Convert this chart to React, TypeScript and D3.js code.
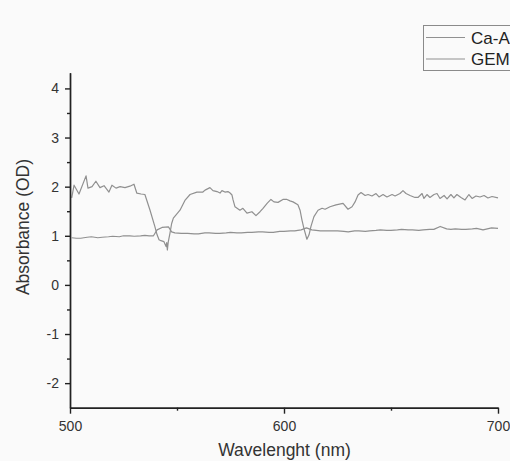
import React, { useEffect, useRef } from 'react';
import * as d3 from 'd3';

// Ca-A spectrum (upper trace)
const caWavelength = [
  500.8, 501.9, 504.2, 507.5, 508.4, 510.3, 512.1, 514.0, 515.9, 518.2, 519.6, 521.5, 523.4, 525.7,
  528.0, 529.9, 531.2, 533.2, 535.0, 537.4, 539.7, 540.7, 541.6, 542.5, 543.9, 544.9, 545.2, 545.5,
  545.9, 546.7, 547.5, 548.3, 551.4, 553.7, 556.1, 559.3, 562.1, 563.1, 565.4, 566.8, 568.7, 570.1,
  571.0, 572.4, 573.8, 574.8, 575.7, 576.2, 577.1, 579.4, 580.8, 582.7, 585.0, 586.9, 588.8, 590.2,
  592.1, 593.9, 595.3, 597.2, 599.5, 601.4, 602.8, 604.2, 606.5, 607.5, 608.4, 609.3, 610.7, 611.7,
  612.6, 614.0, 615.9, 617.8, 619.2, 621.5, 624.3, 627.6, 629.9, 631.8, 633.2, 634.6, 636.0, 637.9,
  639.3, 641.1, 643.0, 644.4, 646.3, 648.1, 650.5, 651.9, 654.2, 655.6, 657.0, 658.9, 661.2, 662.6,
  664.5, 665.4, 666.8, 668.2, 670.1, 671.5, 672.9, 674.8, 676.2, 678.0, 679.4, 680.8, 682.7, 684.6,
  686.4, 687.9, 689.7, 691.6, 693.5, 695.3, 697.2, 700.0,
];
const caAbsorbance = [
  1.77, 2.03, 1.85, 2.22, 1.97, 2.0, 2.11, 1.98, 2.02, 1.89, 2.03, 1.97, 2.0, 1.98,
  2.01, 2.05, 1.87, 1.85, 1.84, 1.52, 1.18, 1.02, 0.92, 0.9, 0.88, 0.78, 0.86, 0.71,
  0.87, 1.05, 1.25, 1.36, 1.52, 1.72, 1.84, 1.89, 1.89, 1.93, 1.98, 1.92, 1.9, 1.87,
  1.92, 1.89, 1.9, 1.87, 1.83, 1.73, 1.59, 1.52, 1.56, 1.46, 1.49, 1.41, 1.49, 1.56,
  1.66, 1.74, 1.69, 1.68, 1.74, 1.74, 1.71, 1.69, 1.63, 1.52, 1.32, 1.15, 0.93, 1.02,
  1.19, 1.39, 1.52, 1.56, 1.54, 1.59, 1.63, 1.66, 1.54, 1.59, 1.69, 1.83, 1.88, 1.82,
  1.84, 1.81, 1.86, 1.79, 1.84, 1.79, 1.84, 1.81, 1.86, 1.92, 1.86, 1.82, 1.78, 1.78,
  1.86, 1.76, 1.84, 1.78, 1.84, 1.86, 1.76, 1.82, 1.75, 1.84, 1.77, 1.84, 1.78, 1.73,
  1.84, 1.76, 1.81, 1.79, 1.82, 1.77, 1.8, 1.77,
];

// GEM spectrum (lower trace)
const gemWavelength = [
  500.8, 503, 505, 508, 510, 513, 515, 518, 520, 523, 525, 528, 530, 533, 535, 537, 539, 540.7,
  543, 546, 547.5, 549, 552, 555, 558, 560, 563, 565, 568, 570, 573, 575, 578, 580, 583, 585,
  588, 590, 593, 595, 598, 600, 603, 605, 608, 610.5, 613, 617, 621, 625, 628, 630, 633, 635,
  638, 640, 643, 645, 648, 650, 653, 655, 658, 660, 663, 665, 668, 670, 673, 676, 678, 680,
  683, 685, 688, 690, 693, 695, 697, 700,
];
const gemAbsorbance = [
  0.96, 0.95, 0.95, 0.97, 0.98, 0.96, 0.97, 0.98, 0.99, 0.98, 1.0, 1.0, 0.99, 1.0, 1.01, 1.0, 1.0, 1.12,
  1.17, 1.18, 1.08, 1.06, 1.05, 1.05, 1.04, 1.04, 1.06, 1.06, 1.05, 1.05, 1.06, 1.07, 1.06, 1.06, 1.07, 1.07,
  1.08, 1.08, 1.07, 1.07, 1.09, 1.09, 1.1, 1.1, 1.12, 1.16, 1.12, 1.1, 1.1, 1.1, 1.09, 1.08, 1.1, 1.1,
  1.09, 1.1, 1.11, 1.12, 1.11, 1.11, 1.12, 1.13, 1.12, 1.12, 1.11, 1.12, 1.13, 1.13, 1.19, 1.14, 1.13, 1.14,
  1.13, 1.13, 1.14, 1.15, 1.12, 1.14, 1.16, 1.15,
];

const seriesNames = ['Ca-A', 'GEM'];
const xMajorTicks = [500, 600, 700];
const xMinorTicks = [550, 650];
const yMajorTicks = [-2, -1, 0, 1, 2, 3, 4];
const yMinorTicks = [-1.5, -0.5, 0.5, 1.5, 2.5, 3.5];

const FONT = '"Liberation Sans", Arial, sans-serif';

const App = () => {
  const svgRef = useRef<SVGSVGElement>(null);

  useEffect(() => {
    const width = 510;
    const height = 461;
    const svg = d3.select(svgRef.current).attr('width', width).attr('height', height);
    svg.selectAll('*').remove();

    svg.append('rect').attr('width', width).attr('height', height).attr('fill', '#fafafa');

    const x = d3.scaleLinear().domain([500, 700]).range([70, 498]);
    const y = d3.scaleLinear().domain([-2.5, 4.32]).range([407.7, 72.7]);

    const line = d3
      .line<[number, number]>()
      .x(d => x(d[0]))
      .y(d => y(d[1]));

    const series = [
      d3.zip(caWavelength, caAbsorbance) as [number, number][],
      d3.zip(gemWavelength, gemAbsorbance) as [number, number][],
    ];

    svg
      .selectAll('.trace')
      .data(series)
      .enter()
      .append('path')
      .attr('class', 'trace')
      .attr('d', d => line(d))
      .attr('fill', 'none')
      .attr('stroke', '#909090')
      .attr('stroke-width', 1.2)
      .attr('stroke-linejoin', 'round');

    const styleAxis = (g: d3.Selection<SVGGElement, unknown, null, undefined>) => {
      g.selectAll('path, line').attr('stroke', '#222').attr('stroke-width', 1.4);
      g.selectAll('text').attr('fill', '#333').style('font-family', FONT).style('font-size', '14px');
    };
    const plain = (d: d3.NumberValue) => String(d);

    // x axis
    svg
      .append('g')
      .attr('transform', `translate(0, ${y(-2.5)})`)
      .call(d3.axisBottom(x).tickValues(xMinorTicks).tickSize(3).tickSizeOuter(0).tickFormat(() => ''))
      .call(styleAxis);
    svg
      .append('g')
      .attr('transform', `translate(0, ${y(-2.5)})`)
      .call(d3.axisBottom(x).tickValues(xMajorTicks).tickSize(6).tickSizeOuter(0).tickPadding(7).tickFormat(plain))
      .call(styleAxis);

    // y axis
    svg
      .append('g')
      .attr('transform', `translate(${x(500)}, 0)`)
      .call(d3.axisLeft(y).tickValues(yMinorTicks).tickSize(3).tickSizeOuter(0).tickFormat(() => ''))
      .call(styleAxis);
    svg
      .append('g')
      .attr('transform', `translate(${x(500)}, 0)`)
      .call(d3.axisLeft(y).tickValues(yMajorTicks).tickSize(5).tickSizeOuter(0).tickPadding(6).tickFormat(plain))
      .call(styleAxis);

    // axis titles
    svg
      .append('text')
      .attr('x', 284.5)
      .attr('y', 456)
      .attr('text-anchor', 'middle')
      .style('font-family', FONT)
      .style('font-size', '17.5px')
      .attr('fill', '#333')
      .text('Wavelenght (nm)');

    svg
      .append('text')
      .attr('transform', 'translate(29, 227) rotate(-90)')
      .attr('text-anchor', 'middle')
      .style('font-family', FONT)
      .style('font-size', '17.5px')
      .attr('fill', '#333')
      .text('Absorbance (OD)');

    // legend
    const legend = svg.append('g');
    legend
      .append('rect')
      .attr('x', 423.5)
      .attr('y', 25.5)
      .attr('width', 100)
      .attr('height', 45)
      .attr('fill', 'none')
      .attr('stroke', '#8a8a8a')
      .attr('stroke-width', 1);

    const items = legend
      .selectAll('.item')
      .data(seriesNames)
      .enter()
      .append('g')
      .attr('transform', (d, i) => `translate(0, ${37.5 + i * 21.5})`);
    items
      .append('line')
      .attr('x1', 426)
      .attr('x2', 465)
      .attr('stroke', '#909090')
      .attr('stroke-width', 1.2);
    items
      .append('text')
      .attr('x', 471)
      .attr('y', 6)
      .style('font-family', FONT)
      .style('font-size', '17px')
      .attr('fill', '#222')
      .text(d => d);
  }, []);

  return (
    <div style={{ position: 'absolute', left: 0, top: 0 }}>
      <svg ref={svgRef} style={{ display: 'block' }}></svg>
    </div>
  );
};

export default App;
